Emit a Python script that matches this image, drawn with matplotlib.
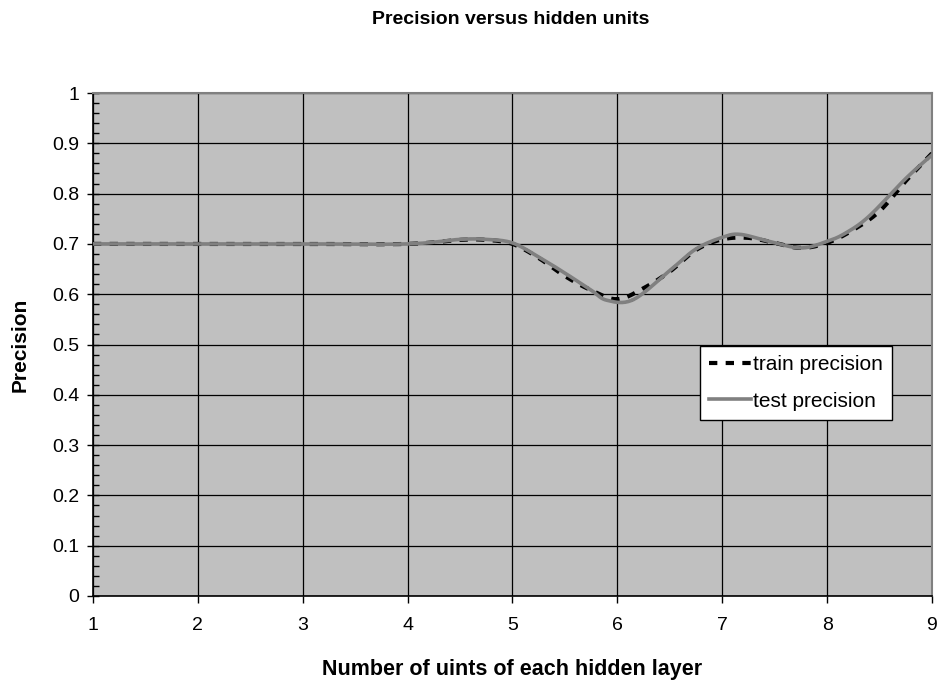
import numpy as np
import matplotlib
matplotlib.use("Agg")
import matplotlib.pyplot as plt

plt.rcParams['font.family'] = ['Liberation Sans', 'DejaVu Sans']

# Datos
x_train = [1, 2, 3, 4, 4.5, 4.75, 5, 5.25, 5.5, 5.75, 6, 6.25, 6.5, 6.75, 7, 7.25, 7.5, 7.75, 8, 8.25, 8.5, 8.75, 9]
train = [0.70, 0.70, 0.70, 0.70, 0.708, 0.708, 0.70, 0.672, 0.636, 0.608, 0.59, 0.612, 0.645, 0.688, 0.709, 0.712, 0.702, 0.692, 0.702, 0.728, 0.765, 0.825, 0.88]

x_test = [1, 2, 3, 4, 4.5, 4.75, 5, 5.25, 5.5, 5.75, 5.9, 6.15, 6.5, 6.75, 7, 7.17, 7.45, 7.75, 8, 8.18, 8.4, 8.75, 9]
test = [0.70, 0.70, 0.70, 0.70, 0.709, 0.709, 0.702, 0.674, 0.642, 0.608, 0.588, 0.589, 0.647, 0.69, 0.713, 0.719, 0.705, 0.692, 0.705, 0.722, 0.755, 0.83, 0.877]

y_ticks = np.arange(0, 1.01, 0.1)
x_ticks = list(range(1, 10))


# Suavizado tipo Excel (Catmull-Rom) solo para el dibujo
def suavizar(xs, ys, n=20):
    p = np.column_stack([xs, ys]).astype(float)
    p = np.vstack([p[0], p, p[-1]])
    out = []
    for i in range(1, len(p) - 2):
        p0, p1, p2, p3 = p[i - 1], p[i], p[i + 1], p[i + 2]
        t = np.linspace(0, 1, n)[:, None]
        seg = 0.5 * ((2 * p1) + (-p0 + p2) * t + (2 * p0 - 5 * p1 + 4 * p2 - p3) * t**2
                     + (-p0 + 3 * p1 - 3 * p2 + p3) * t**3)
        out.append(seg)
    s = np.vstack(out)
    return s[:, 0], s[:, 1]


fig = plt.figure(figsize=(9.41, 6.83), dpi=100)
ax = fig.add_axes([0.0988, 0.1274, 0.8916, 0.7364])
ax.set_facecolor('#C0C0C0')

xs, ys = suavizar(x_train, train)
ax.plot(xs, ys, color='black', lw=3, ls=(0, (2, 2)), label='train precision', zorder=3)
xs, ys = suavizar(x_test, test)
ax.plot(xs, ys, color='#808080', lw=2.6, label='test precision', zorder=4)

ax.set_xlim(1, 9)
ax.set_ylim(0, 1)
ax.set_xticks(x_ticks)
ax.set_yticks(y_ticks)
ax.set_yticklabels(['0'] + ['%.1f' % v for v in y_ticks[1:-1]] + ['1'])
ax.set_yticks(np.arange(0, 1.001, 0.02), minor=True)
ax.grid(True, which='major', color='black', lw=0.9)
ax.tick_params(axis='both', which='major', labelsize=14, length=5, width=1)
ax.tick_params(axis='y', which='major', direction='inout', length=8, pad=6)
ax.tick_params(axis='y', which='minor', direction='in', length=4, width=1)
ax.tick_params(axis='x', which='minor', length=0)
ax.tick_params(axis='x', pad=10)

for lado in ['top', 'right']:
    ax.spines[lado].set_color('#808080')
    ax.spines[lado].set_linewidth(1.5)
for lado in ['left', 'bottom']:
    ax.spines[lado].set_linewidth(1.2)

ax.set_xlabel('Number of uints of each hidden layer', fontsize=15.5, fontweight='bold', labelpad=18)
ax.set_ylabel('Precision', fontsize=15, fontweight='bold', labelpad=16)
fig.text(0.543, 0.972, 'Precision versus hidden units', fontsize=14, fontweight='bold',
         ha='center', va='center')

leg = ax.legend(loc='upper left', bbox_to_anchor=(0.723, 0.497), fontsize=15, fancybox=False,
                framealpha=1, edgecolor='black', borderpad=0.45, handlelength=2.0,
                handletextpad=0.1, labelspacing=0.83, borderaxespad=0)
leg.get_frame().set_linewidth(1)

fig.savefig('out.png', dpi=100)
